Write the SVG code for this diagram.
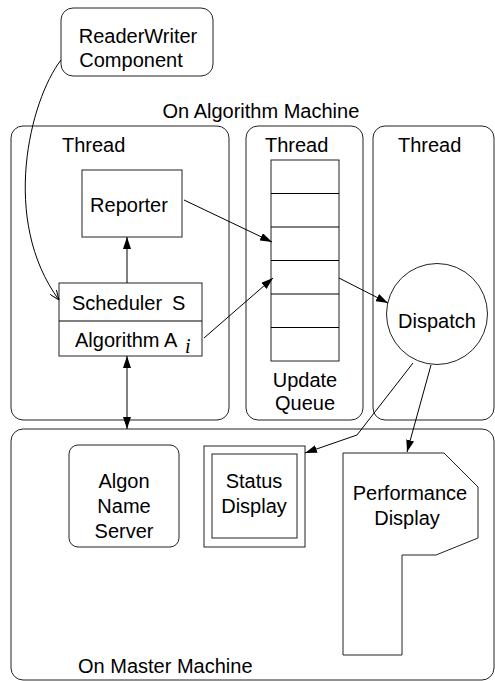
<svg xmlns="http://www.w3.org/2000/svg" width="495" height="681" viewBox="0 0 495 681">
<defs>
<style>
text{font-family:"Liberation Sans",Arial,sans-serif;font-size:20px;fill:#000}
.b{fill:#fff;stroke:#222;stroke-width:1}
.c{fill:none;stroke:#000;stroke-width:1}
.m{text-anchor:middle}
</style>
<marker id="ah" viewBox="0 0 12 8" refX="12" refY="4" markerWidth="12" markerHeight="8" markerUnits="userSpaceOnUse" orient="auto-start-reverse">
<path d="M0,0 L12,4 L0,8 z" fill="#000"/>
</marker>
<marker id="oh" viewBox="0 0 10 8" refX="10" refY="4" markerWidth="10" markerHeight="8" markerUnits="userSpaceOnUse" orient="auto">
<path d="M0,0 L10,4 L0,8" fill="none" stroke="#000" stroke-width="1"/>
</marker>
</defs>
<rect width="495" height="681" fill="#fff"/>
<g id="master">
<rect class="b" x="11" y="429" width="483" height="251" rx="12"/>
<text x="78" y="673">On Master Machine</text>
</g>
<text x="162.5" y="118">On Algorithm Machine</text>
<g id="thread1">
<rect class="b" x="11" y="126" width="218" height="294" rx="12"/>
<text x="62" y="152">Thread</text>
</g>
<g id="thread2">
<rect class="b" x="246" y="126" width="117" height="294" rx="12"/>
<text x="265" y="152">Thread</text>
</g>
<g id="thread3">
<rect class="b" x="373" y="126" width="121" height="294" rx="12"/>
<text x="398" y="152">Thread</text>
</g>
<g id="readerwriter">
<rect class="b" x="61" y="8" width="152" height="68" rx="12"/>
<text class="m" x="138" y="43">ReaderWriter</text>
<text class="m" x="131" y="67">Component</text>
</g>
<g id="reporter">
<rect class="b" x="82" y="170" width="100" height="67"/>
<text class="m" x="129" y="212">Reporter</text>
</g>
<g id="scheduler">
<rect class="b" x="59" y="283" width="143" height="73"/>
<line class="c" x1="59" y1="321" x2="202" y2="321"/>
<text x="72" y="310">Scheduler</text>
<text x="172" y="310">S</text>
<text x="75" y="347">Algorithm A</text>
<text x="185" y="353" style="font-family:'Liberation Serif',serif;font-style:italic">i</text>
</g>
<g id="queue">
<rect class="b" x="271" y="160" width="68" height="201"/>
<path class="c" d="M271,193.5H339M271,227H339M271,260.5H339M271,294H339M271,327.5H339"/>
<text class="m" x="305" y="387">Update</text>
<text class="m" x="305" y="410">Queue</text>
</g>
<g id="dispatch">
<circle class="b" cx="437" cy="314" r="50.5"/>
<text class="m" x="437" y="328">Dispatch</text>
</g>
<g id="algon">
<rect class="b" x="69" y="445" width="110" height="102" rx="9"/>
<text class="m" x="124" y="488">Algon</text>
<text class="m" x="124" y="513">Name</text>
<text class="m" x="124" y="538">Server</text>
</g>
<g id="status">
<rect class="b" x="204" y="446" width="101" height="101"/>
<rect class="b" x="212" y="454" width="85" height="84"/>
<text class="m" x="254" y="488">Status</text>
<text class="m" x="254" y="513">Display</text>
</g>
<g id="performance">
<polygon class="b" points="343,453 444,453 478,487 478,538 436,555 402,555 402,655 343,655"/>
<text class="m" x="410" y="500">Performance</text>
<text class="m" x="407" y="525">Display</text>
</g>
<g id="connectors">
<path class="c" d="M61,60 C30,100 0,220 59,300" marker-end="url(#oh)"/>
<line class="c" x1="127" y1="283" x2="127" y2="237" marker-end="url(#ah)"/>
<line class="c" x1="127" y1="356" x2="127" y2="429" marker-start="url(#ah)" marker-end="url(#ah)"/>
<line class="c" x1="184" y1="200" x2="272" y2="242" marker-end="url(#ah)"/>
<line class="c" x1="204" y1="338" x2="273" y2="278" marker-end="url(#ah)"/>
<line class="c" x1="339" y1="278" x2="388" y2="303" marker-end="url(#ah)"/>
<polyline class="c" points="413,363 357,435 305,453" marker-end="url(#ah)"/>
<line class="c" x1="431" y1="365" x2="407" y2="452" marker-end="url(#ah)"/>
</g>
</svg>
